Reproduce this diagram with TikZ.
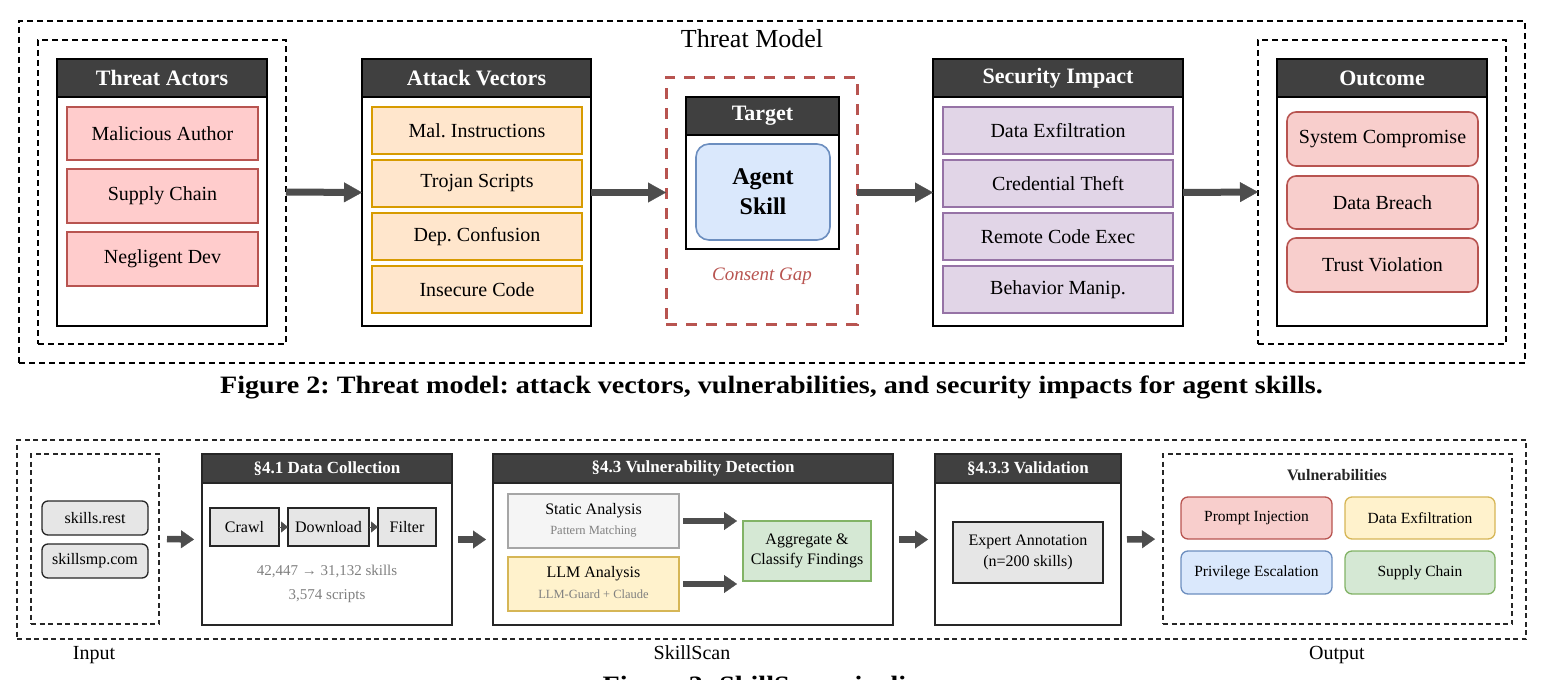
\documentclass[tikz,border=0pt]{standalone}
\usepackage{fontspec}
\setmainfont{Liberation Serif}
\usetikzlibrary{arrows.meta}
\frenchspacing
\definecolor{hdr}{HTML}{404040}
\definecolor{arr}{HTML}{4D4D4D}
\definecolor{redF}{HTML}{FFCCCC}
\definecolor{redD}{HTML}{B85450}
\definecolor{redF2}{HTML}{F8CECC}
\definecolor{orF}{HTML}{FFE6CC}
\definecolor{orD}{HTML}{D79B00}
\definecolor{puF}{HTML}{E1D5E7}
\definecolor{puD}{HTML}{9673A6}
\definecolor{blF}{HTML}{DAE8FC}
\definecolor{blD}{HTML}{6C8EBF}
\definecolor{yeF}{HTML}{FFF2CC}
\definecolor{yeD}{HTML}{D6B656}
\definecolor{grF}{HTML}{D5E8D4}
\definecolor{grD}{HTML}{82B366}
\definecolor{ltF}{HTML}{E6E6E6}
\definecolor{stF}{HTML}{F5F5F5}
\definecolor{stD}{HTML}{A6A6A6}
\definecolor{txg}{HTML}{808080}
\definecolor{dk}{HTML}{262626}
\newcommand{\mybox}[7]{\node[#1, minimum width={#5-#3}, minimum height={#6-#4}] (#2) at (#3,#4) {#7};}
\tikzset{
  rect/.style={anchor=north west, inner sep=0pt, outer sep=0pt, align=center},
  panel/.style={rect, draw=black, line width=2pt, fill=white},
  hdrbox/.style={rect, draw=black, line width=2pt, fill=hdr, text=white, font=\bfseries\fontsize{22}{26}\selectfont},
  titem/.style={rect, line width=1.6pt, font=\fontsize{20}{24}\selectfont},
  redit/.style={titem, draw=redD, fill=redF},
  orit/.style={titem, draw=orD, fill=orF},
  puit/.style={titem, draw=puD, fill=puF},
  ocit/.style={titem, draw=redD, fill=redF2, rounded corners=9pt},
  tdash/.style={rect, draw=black, line width=1.5pt, dash pattern=on 6pt off 4pt},
  reddash/.style={rect, draw=redD, line width=3pt, dash pattern=on 11pt off 9pt},
  bigarrow/.style={draw=arr, line width=7pt, -{Triangle[length=18pt,width=20pt,line width=0.3pt]}},
  bdash/.style={rect, draw=dk, line width=1.2pt, dash pattern=on 5pt off 3.5pt},
  bpanel/.style={rect, draw=dk, line width=1.5pt, fill=white},
  bhdr/.style={rect, draw=dk, line width=1.5pt, fill=hdr, text=white, font=\bfseries\fontsize{17}{20}\selectfont},
  gbox/.style={rect, draw=dk, line width=1.3pt, fill=ltF, font=\fontsize{16}{21}\selectfont},
  srcbox/.style={gbox, rounded corners=6pt},
  vit/.style={rect, rounded corners=7pt, line width=1.3pt, font=\fontsize{15.5}{19}\selectfont},
  midarrow/.style={draw=arr, line width=6.5pt, -{Triangle[length=13pt,width=18pt,line width=0.3pt]}},
  tri/.style={draw=arr, line width=0.4pt, -{Triangle[length=7pt,width=11pt,line width=0.3pt]}},
  f16/.style={inner sep=0pt, font=\fontsize{16}{19}\selectfont},
  gsmall/.style={inner sep=0pt, text=txg, font=\fontsize{12.5}{15}\selectfont},
  gtxt/.style={inner sep=0pt, text=txg, font=\fontsize{15}{18}\selectfont},
  lbl/.style={inner sep=0pt, anchor=base, font=\fontsize{20}{24}\selectfont},
  capt/.style={inner sep=0pt, anchor=base, font=\bfseries\fontsize{25}{30}\selectfont}
}
\begin{document}
\begin{tikzpicture}[x=1pt,y=-1pt]
\useasboundingbox (0,0) rectangle (1545,680);
% ================= Threat model =================
\mybox{tdash}{tm}{19}{21}{1525}{363}{}
\node[font=\fontsize{26}{30}\selectfont, anchor=base, inner sep=0pt] (tmtitle) at (752,47) {Threat Model};
% Threat actors
\mybox{tdash}{tad}{38}{40}{286}{344}{}
\mybox{panel}{ta}{57}{59}{267}{326}{}
\mybox{hdrbox}{tah}{57}{59}{267}{97}{Threat Actors}
\mybox{redit}{ta1}{67}{107}{258}{160}{Malicious Author}
\mybox{redit}{ta2}{67}{169}{258}{223}{Supply Chain}
\mybox{redit}{ta3}{67}{232}{258}{286}{Negligent Dev}
% Attack vectors
\mybox{panel}{av}{362}{59}{591}{326}{}
\mybox{hdrbox}{avh}{362}{59}{591}{97}{Attack Vectors}
\mybox{orit}{av1}{372}{107}{582}{154}{Mal. Instructions}
\mybox{orit}{av2}{372}{160}{582}{207}{Trojan Scripts}
\mybox{orit}{av3}{372}{213}{582}{260}{Dep. Confusion}
\mybox{orit}{av4}{372}{266}{582}{313}{Insecure Code}
% Target
\mybox{reddash}{tg}{666}{77}{857}{324}{}
\mybox{panel}{tgp}{686}{97}{839}{249}{}
\mybox{hdrbox}{tgh}{686}{97}{839}{135}{Target}
\mybox{rect, draw=blD, fill=blF, line width=1.6pt, rounded corners=13pt, font=\bfseries\fontsize{24}{30}\selectfont}{skill}{696}{144}{830}{240}{Agent\\Skill}
\node[inner sep=0pt, text=redD, font=\itshape\fontsize{19}{22}\selectfont] (gap) at (762,276) {Consent Gap};
% Security impact
\mybox{panel}{si}{933}{59}{1183}{326}{}
\mybox{hdrbox}{sih}{933}{59}{1183}{97}{Security Impact}
\mybox{puit}{si1}{943}{107}{1173}{154}{Data Exfiltration}
\mybox{puit}{si2}{943}{160}{1173}{207}{Credential Theft}
\mybox{puit}{si3}{943}{213}{1173}{260}{Remote Code Exec}
\mybox{puit}{si4}{943}{266}{1173}{313}{Behavior Manip.}
% Outcome
\mybox{tdash}{ocd}{1258}{40}{1506}{344}{}
\mybox{panel}{oc}{1277}{59}{1487}{326}{}
\mybox{hdrbox}{och}{1277}{59}{1487}{97}{Outcome}
\mybox{ocit}{oc1}{1287}{112}{1478}{166}{System Compromise}
\mybox{ocit}{oc2}{1287}{176}{1478}{229}{Data Breach}
\mybox{ocit}{oc3}{1287}{238}{1478}{292}{Trust Violation}
% arrows
\draw[bigarrow] (tad.east) -- (av.west);
\draw[bigarrow] (av.east) -- (av.east -| tg.west);
\draw[bigarrow] (si.west -| tg.east) -- (si.west);
\draw[bigarrow] (si.east) -- (ocd.west);
% caption
\node[capt] (cap2) at (771.5,393) {\scalebox{1.125}[1]{Figure 2: Threat model: attack vectors, vulnerabilities, and security impacts for agent skills.}};
% ================= SkillScan =================
\mybox{bdash}{ss}{17}{440}{1526}{639}{}
% Input
\mybox{bdash}{inp}{31}{454}{159}{624}{}
\mybox{srcbox}{src1}{42}{501}{148}{535}{skills.rest}
\mybox{srcbox}{src2}{42}{544}{148}{578}{skillsmp.com}
% Data collection
\mybox{bpanel}{dc}{202}{454}{452}{625}{}
\mybox{bhdr}{dch}{202}{454}{452}{483}{§4.1 Data Collection}
\mybox{gbox}{crawl}{210}{508}{279}{546}{Crawl}
\mybox{gbox}{dl}{288}{508}{369}{546}{Download}
\mybox{gbox}{filt}{378}{508}{436}{546}{Filter}
\draw[tri] (crawl.east) -- (dl.west);
\draw[tri] (dl.east) -- (filt.west);
\node[gtxt] (dcs1) at (327,571) {42,447 → 31,132 skills};
\node[gtxt] (dcs2) at (327,596) {3,574 scripts};
% Vulnerability detection
\mybox{bpanel}{vd}{493}{454}{893}{625}{}
\mybox{bhdr}{vdh}{493}{454}{893}{483}{§4.3 Vulnerability Detection}
\mybox{rect, draw=stD, fill=stF, line width=1.3pt}{sta}{508}{494}{679}{548}{}
\node[f16] (stat1) at (593.5,511) {Static Analysis};
\node[gsmall] (stat2) at (593.5,532) {Pattern Matching};
\mybox{rect, draw=yeD, fill=yeF, line width=1.3pt}{llm}{508}{557}{679}{611}{}
\node[f16] (llm1) at (593.5,574) {LLM Analysis};
\node[gsmall] (llm2) at (593.5,594) {LLM-Guard + Claude};
\mybox{rect, draw=grD, fill=grF, line width=1.3pt, font=\fontsize{16}{20}\selectfont}{agg}{743}{521}{871}{581}{Aggregate \&\\Classify Findings}
\draw[midarrow, shorten <=4pt, shorten >=6pt] (sta.east) -- (sta.east -| agg.west);
\draw[midarrow, shorten <=4pt, shorten >=6pt] (llm.east) -- (llm.east -| agg.west);
% Validation
\mybox{bpanel}{val}{935}{454}{1121}{625}{}
\mybox{bhdr}{valh}{935}{454}{1121}{483}{§4.3.3 Validation}
\mybox{gbox}{expa}{953}{522}{1103}{583}{Expert Annotation\\(n=200 skills)}
% Output
\mybox{bdash}{outb}{1163}{454}{1512}{624}{}
\node[inner sep=0pt, text=dk, font=\bfseries\fontsize{16}{19}\selectfont] (vtitle) at (1337,475) {Vulnerabilities};
\mybox{vit, draw=redD, fill=redF2}{v1}{1181}{497}{1332}{539}{Prompt Injection}
\mybox{vit, draw=yeD, fill=yeF}{v2}{1345}{497}{1495}{539}{Data Exfiltration}
\mybox{vit, draw=blD, fill=blF}{v3}{1181}{551}{1332}{594}{Privilege Escalation}
\mybox{vit, draw=grD, fill=grF}{v4}{1345}{551}{1495}{594}{Supply Chain}
% arrows
\draw[midarrow, shorten <=8pt, shorten >=8pt] (inp.east) -- (dc.west);
\draw[midarrow, shorten <=6pt, shorten >=7pt] (dc.east) -- (vd.west);
\draw[midarrow, shorten <=6pt, shorten >=7pt] (vd.east) -- (val.west);
\draw[midarrow, shorten <=6pt, shorten >=8pt] (val.east) -- (outb.west);
% labels
\node[lbl] (inlbl) at (94,659.5) {Input};
\node[lbl] (sslbl) at (692,659.5) {SkillScan};
\node[lbl] (outlbl) at (1337,659.5) {Output};
\node[capt] (cap3) at (772,693.5) {\scalebox{1.125}[1]{Figure 3: SkillScan pipeline.}};
\end{tikzpicture}
\end{document}
